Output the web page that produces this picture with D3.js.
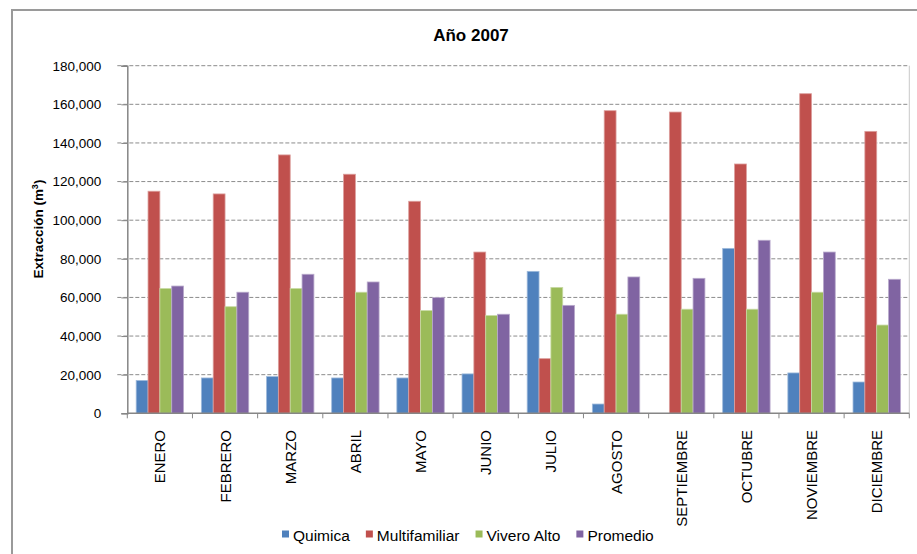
<!DOCTYPE html>
<html>
<head>
<meta charset="utf-8">
<script src="https://cdn.jsdelivr.net/npm/d3@7"></script>
<style>
  html, body { margin: 0; padding: 0; background: #fff; }
  svg { display: block; font-family: "Liberation Sans", Arial, sans-serif; }
</style>
</head>
<body>
<svg id="chart" width="917" height="554"></svg>
<script>
// Monthly extraction, 2007
const months = ["ENERO", "FEBRERO", "MARZO", "ABRIL", "MAYO", "JUNIO", "JULIO",
                "AGOSTO", "SEPTIEMBRE", "OCTUBRE", "NOVIEMBRE", "DICIEMBRE"];
const seriesNames = ["Quimica", "Multifamiliar", "Vivero Alto", "Promedio"];
const quimica       = [17000, 18300, 19000, 18300, 18300, 20400, 73500, 4800, 0, 85400, 20900, 16200];
const multifamiliar = [115000, 113600, 133800, 123800, 109800, 83500, 28300, 156700, 156000, 129100, 165500, 146000];
const viveroAlto    = [64600, 55200, 64600, 62700, 53200, 50600, 65200, 51300, 53900, 53900, 62700, 45700];
const promedio      = [65900, 62700, 72000, 68000, 59900, 51300, 55900, 70600, 69900, 89600, 83500, 69400];
const yTicks = [0, 20000, 40000, 60000, 80000, 100000, 120000, 140000, 160000, 180000];
const colors = ["#4F81BD", "#C0504D", "#9BBB59", "#8064A2"];

const seriesValues = [quimica, multifamiliar, viveroAlto, promedio];

const svg = d3.select("#chart");

// chart frame
svg.append("rect")
  .attr("x", 12).attr("y", 10)
  .attr("width", 930).attr("height", 560)
  .attr("fill", "#fff")
  .attr("stroke", "#9a9a9a")
  .attr("stroke-width", 2);

const plot = { left: 127.3, right: 909.3, top: 65.7, bottom: 413.3 };

const x0 = d3.scaleBand().domain(months).range([plot.left, plot.right]).padding(0);
const x1 = d3.scaleBand().domain(seriesNames).range([0, x0.bandwidth()])
  .paddingInner(0).paddingOuter(0.75);
const y = d3.scaleLinear().domain([0, 180000]).range([plot.bottom, plot.top]);
const color = d3.scaleOrdinal().domain(seriesNames).range(colors);

// gridlines
svg.append("g")
  .selectAll("line")
  .data(yTicks.filter(t => t > 0))
  .join("line")
  .attr("x1", plot.left - 10).attr("x2", plot.right)
  .attr("y1", d => y(d)).attr("y2", d => y(d))
  .attr("stroke", "#8c8c8c")
  .attr("stroke-width", 1)
  .attr("stroke-dasharray", "4,2");

// right border of plot area
svg.append("line")
  .attr("x1", plot.right).attr("x2", plot.right)
  .attr("y1", plot.top).attr("y2", plot.bottom)
  .attr("stroke", "#c8c8c8");

// bars
const rows = months.map((m, i) => ({ month: m, values: seriesNames.map((s, j) => ({ key: s, value: seriesValues[j][i] })) }));

svg.append("g")
  .selectAll("g")
  .data(rows)
  .join("g")
  .attr("transform", d => `translate(${x0(d.month)},0)`)
  .selectAll("rect")
  .data(d => d.values.filter(v => v.value > 0))
  .join("rect")
  .attr("x", d => x1(d.key))
  .attr("y", d => y(d.value))
  .attr("width", x1.bandwidth())
  .attr("height", d => y(0) - y(d.value))
  .attr("fill", d => color(d.key))
  .attr("stroke", d => d3.interpolateRgb(color(d.key), "#fff")(0.45))
  .attr("stroke-width", 0.8);

// y axis
const yAxis = d3.axisLeft(y)
  .tickValues(yTicks)
  .tickSize(6)
  .tickPadding(20)
  .tickFormat(d3.format(","));

const gy = svg.append("g")
  .attr("transform", `translate(${plot.left},0)`)
  .call(yAxis);
gy.select(".domain").attr("stroke", "#868686").attr("stroke-width", 1.5);
gy.selectAll(".tick line").attr("stroke", "#868686");
gy.selectAll(".tick text")
  .attr("font-size", 13.5)
  .attr("font-family", "Liberation Sans, Arial, sans-serif")
  .attr("fill", "#000");

// x axis baseline with boundary ticks
svg.append("line")
  .attr("x1", plot.left).attr("x2", plot.right)
  .attr("y1", plot.bottom).attr("y2", plot.bottom)
  .attr("stroke", "#868686").attr("stroke-width", 1.5);

const boundaries = months.map(m => x0(m)).concat([plot.right]);
svg.append("g")
  .selectAll("line")
  .data(boundaries)
  .join("line")
  .attr("x1", d => d).attr("x2", d => d)
  .attr("y1", plot.bottom).attr("y2", plot.bottom + 5)
  .attr("stroke", "#868686");

// month labels, rotated
svg.append("g")
  .selectAll("text")
  .data(months)
  .join("text")
  .attr("transform", d => `translate(${x0(d) + x0.bandwidth() / 2 + 5.5},430) rotate(-90)`)
  .attr("text-anchor", "end")
  .attr("font-size", 15)
  .attr("fill", "#000")
  .text(d => d);

// title
svg.append("text")
  .attr("x", 471).attr("y", 41)
  .attr("text-anchor", "middle")
  .attr("font-size", 17)
  .attr("font-weight", "bold")
  .text("Año 2007");

// y axis title
const yt = svg.append("text")
  .attr("transform", "translate(43,229) rotate(-90)")
  .attr("text-anchor", "middle")
  .attr("font-size", 13.5)
  .attr("font-weight", "bold");
yt.append("tspan").text("Extracción (m");
yt.append("tspan").attr("dy", -5).attr("font-size", 9).text("3");
yt.append("tspan").attr("dy", 5).text(")");

// legend
const legend = svg.append("g").attr("transform", "translate(282,0)");
let lx = 0;
seriesNames.forEach((s, i) => {
  const g = legend.append("g").attr("transform", `translate(${lx},0)`);
  g.append("rect")
    .attr("x", 0).attr("y", 530.5)
    .attr("width", 7).attr("height", 7)
    .attr("fill", colors[i]);
  const t = g.append("text")
    .attr("x", 11).attr("y", 541)
    .attr("font-size", 15.5)
    .attr("fill", "#000")
    .text(s);
  lx += 11 + t.node().getComputedTextLength() + 16;
});
</script>
</body>
</html>
